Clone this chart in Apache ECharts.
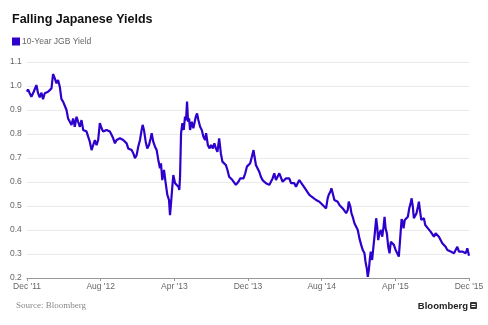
<!DOCTYPE html>
<html>
<head>
<meta charset="utf-8">
<script src="https://cdn.jsdelivr.net/npm/echarts@6/dist/echarts.min.js"></script>
<style>
html,body{margin:0;padding:0;background:#fff;}
#chart{width:488px;height:325px;}
</style>
</head>
<body>
<div id="chart"></div>
<script>
// months elapsed since start of Dec 2011
var monthsSinceDec2011 = [0,0.11,0.29,0.48,0.73,1.02,1.20,1.38,1.57,1.74,1.93,2.11,2.29,2.47,2.66,2.83,3.02,3.20,3.37,3.56,3.74,3.92,4.10,4.29,4.46,4.65,4.83,5.01,5.19,5.38,5.55,5.74,5.92,6.10,6.28,6.47,6.64,6.82,7.01,7.18,7.37,7.55,7.73,7.91,
8.10,8.27,8.46,8.64,8.82,9.00,9.19,9.36,9.55,9.73,9.90,10.09,10.27,10.45,10.63,10.82,10.99,11.18,11.36,11.54,11.72,11.91,12.08,12.27,12.45,12.56,12.70,12.89,13.06,13.25,13.43,13.54,13.71,13.90,14.08,14.26,14.44,14.55,14.69,14.88,15.06,15.24,15.42,15.53,15.64,15.78,15.89,16.08,16.26,16.44,16.54,16.62,
16.73,16.87,17.02,17.16,17.27,17.38,17.49,17.60,17.71,17.89,18.07,18.18,18.33,18.47,18.61,18.80,18.98,19.16,19.34,19.45,19.64,19.81,19.99,20.18,20.35,20.51,20.68,20.87,21.05,21.22,21.41,21.59,21.77,21.95,22.14,22.31,22.50,22.68,22.82,22.96,23.15,23.34,23.51,23.70,23.88,24.05,24.24,24.42,24.60,
24.71,24.86,25.03,25.22,25.40,25.58,25.76,25.95,26.12,26.31,26.49,26.67,26.85,27.04,27.21,27.40,27.58,27.76,27.94,28.13,28.30,28.48,28.67,28.84,29.03,29.21,29.39,29.57,29.76,29.93,30.12,30.30,30.48,30.66,30.85,31.02,31.21,31.39,31.56,31.75,31.93,32.11,32.29,32.48,32.65,
32.76,32.95,33.06,33.20,33.38,33.57,33.74,33.93,34.11,34.29,34.47,34.66,34.83,34.94,35.12,35.23,35.37,35.56,35.74,35.92,36.10,36.29,36.46,36.65,36.76,36.90,37.01,37.12,37.22,37.33,37.48,37.62,37.77,37.92,38.03,38.14,38.28,38.43,38.58,38.72,38.83,38.94,39.08,39.23,39.37,39.51,39.66,39.84,40.03,40.21,40.38,
40.68,40.79,40.89,41.03,41.18,41.36,41.51,41.66,41.77,41.90,42.01,42.16,42.30,42.45,42.56,42.67,42.82,42.96,43.10,43.25,43.40,43.54,43.69,43.83,44.02,44.19,44.38,44.56,44.73,44.92,45.10,45.28,45.46,45.65,45.82,46.01,46.19,46.37,46.55,46.73,46.91,47.09,47.28,47.46,47.64,47.82,48.0];

// 10-year JGB yield, percent
var jgbYield = [0.976,0.986,0.970,0.955,0.976,1.004,0.970,0.953,0.972,0.945,0.970,0.963,0.976,0.972,0.990,1.050,1.032,1.011,1.025,0.997,0.945,0.935,0.942,0.900,0.865,0.851,0.838,0.865,0.830,0.872,0.851,0.830,0.858,0.817,0.824,0.810,0.789,0.768,0.733,0.726,0.775,0.754,0.775,0.845,
0.824,0.810,0.803,0.817,0.824,0.810,0.796,0.782,0.761,0.775,0.768,0.782,0.782,0.775,0.775,0.761,0.740,0.747,0.733,0.720,0.699,0.713,0.747,0.775,0.817,0.838,0.817,0.768,0.740,0.754,0.782,0.803,0.768,0.747,0.733,0.692,0.657,0.678,0.608,0.650,0.595,0.546,0.525,0.462,0.511,0.580,0.629,0.595,0.601,0.580,0.567,0.622,
0.803,0.845,0.817,0.872,0.858,0.935,0.851,0.865,0.817,0.851,0.824,0.845,0.872,0.886,0.858,0.830,0.817,0.789,0.775,0.803,0.754,0.740,0.754,0.740,0.761,0.740,0.726,0.782,0.720,0.685,0.678,0.671,0.650,0.622,0.615,0.608,0.601,0.588,0.595,0.601,0.615,0.608,0.615,0.636,0.664,0.657,0.678,0.705,0.733,
0.705,0.671,0.678,0.643,0.622,0.608,0.601,0.595,0.595,0.588,0.580,0.615,0.636,0.608,0.622,0.636,0.629,0.601,0.601,0.615,0.608,0.615,0.595,0.601,0.595,0.580,0.595,0.608,0.601,0.588,0.580,0.567,0.560,0.546,0.539,0.536,0.532,0.525,0.525,0.518,0.511,0.504,0.511,0.490,0.532,
0.546,0.560,0.574,0.553,0.525,0.518,0.518,0.504,0.497,0.490,0.483,0.470,0.483,0.518,0.497,0.470,0.455,0.428,0.428,0.400,0.365,0.338,0.317,0.303,0.268,0.240,0.205,0.233,0.275,0.310,0.275,0.330,0.386,0.449,0.414,0.358,0.386,0.400,0.372,0.414,0.455,0.407,0.386,0.330,0.303,0.351,0.358,0.338,0.317,0.310,0.289,
0.445,0.435,0.407,0.442,0.435,0.455,0.490,0.511,0.532,0.497,0.449,0.442,0.470,0.497,0.518,0.483,0.442,0.435,0.449,0.421,0.414,0.407,0.414,0.393,0.386,0.372,0.386,0.393,0.372,0.365,0.345,0.338,0.330,0.317,0.324,0.310,0.310,0.303,0.317,0.330,0.310,0.303,0.310,0.317,0.303,0.324,0.293];

var xTickLabels = ["Dec '11", "Aug '12", "Apr '13", "Dec '13", "Aug '14", "Apr '15", "Dec '15"];
var yTickValues = [0.2, 0.3, 0.4, 0.5, 0.6, 0.7, 0.8, 0.9, 1.0, 1.1];
var seriesName = '10-Year JGB Yield';

var pairs = monthsSinceDec2011.map(function (m, i) { return [m, jgbYield[i]]; });

var chart = echarts.init(document.getElementById('chart'), null, {renderer: 'canvas'});
var sans = "'Liberation Sans', Arial, Helvetica, sans-serif";
chart.setOption({
  animation: false,
  backgroundColor: '#ffffff',
  title: {
    text: 'Falling Japanese Yields',
    left: 12, top: 13, padding: 0,
    textStyle: {fontFamily: sans, fontWeight: 'bold', fontSize: 12.5, color: '#111'}
  },
  legend: {
    data: [seriesName],
    left: 12, top: 37, padding: 0,
    icon: 'rect', itemWidth: 8, itemHeight: 8,
    textStyle: {fontFamily: sans, fontSize: 8.5, color: '#666', padding: [0, 0, 0, -3]}
  },
  grid: {left: 27, right: 19, top: 62, bottom: 47, containLabel: false},
  xAxis: {
    type: 'value', min: 0, max: 48, interval: 8,
    axisLine: {show: true, lineStyle: {color: '#999', width: 1}},
    axisTick: {show: true, length: 3, lineStyle: {color: '#999'}},
    splitLine: {show: false},
    axisLabel: {
      fontFamily: sans, fontSize: 8.5, color: '#666', margin: 4,
      formatter: function (v) { return xTickLabels[Math.round(v / 8)] || ''; }
    }
  },
  yAxis: {
    type: 'value', min: yTickValues[0], max: yTickValues[yTickValues.length - 1], interval: 0.1,
    axisLine: {show: false}, axisTick: {show: false},
    splitLine: {show: true, lineStyle: {color: '#ebebeb', width: 1}},
    axisLabel: {
      fontFamily: sans, fontSize: 8.5, color: '#666', align: 'left', margin: 17,
      formatter: function (v) { return (Math.round(v * 10) / 10).toFixed(1); }
    }
  },
  series: [{
    name: seriesName,
    type: 'line',
    data: pairs,
    showSymbol: false, symbol: 'none',
    lineStyle: {color: '#2e00cc', width: 2.2},
    itemStyle: {color: '#2e00cc'},
    z: 5
  }],
  graphic: [
    {type: 'text', left: 16, top: 301, style: {text: 'Source: Bloomberg', fill: '#888', font: "9px 'Liberation Serif', 'Times New Roman', serif"}},
    {type: 'text', right: 20, top: 301, style: {text: 'Bloomberg', fill: '#222', font: "bold 9.5px " + sans}},
    {type: 'rect', right: 11, top: 302, shape: {width: 7, height: 7, r: 1}, style: {fill: '#333'}},
    {type: 'rect', right: 12.5, top: 304, shape: {width: 4, height: 1}, style: {fill: '#fff'}},
    {type: 'rect', right: 12.5, top: 306, shape: {width: 4, height: 1}, style: {fill: '#fff'}}
  ]
});
</script>
</body>
</html>
